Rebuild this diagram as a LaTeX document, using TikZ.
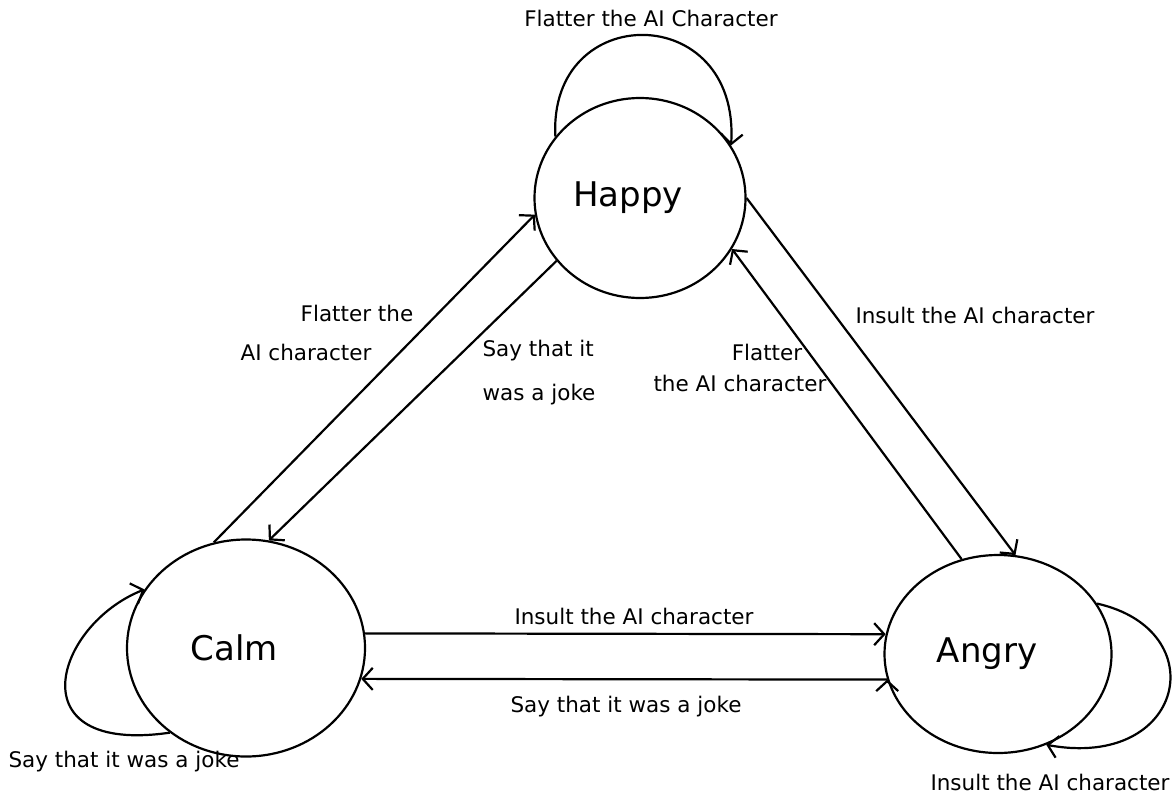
\documentclass[tikz,border=0pt]{standalone}
\usepackage{fontspec}
\setmainfont{DejaVu Sans}
\usetikzlibrary{automata, shapes.geometric, arrows.meta}
\tikzset{->, >={Straight Barb[length=10pt,width=22pt]},
  every state/.style={ellipse, draw, line width=2.2pt, inner sep=0pt, font=\fontsize{34}{40}\selectfont},
  lbl/.style={font=\fontsize{21.5}{26}\selectfont, inner sep=0pt}}

\begin{document}
\begin{tikzpicture}[x=1pt, y=-1pt, line width=2.2pt]
        \useasboundingbox (0,0) rectangle (1172,795);
        \node[state, minimum width=211pt, minimum height=200pt] at (640,198) (happy) {Happy\hspace*{24pt}};
        \node[state, minimum width=238pt, minimum height=217pt] at (246,648) (calm) {Calm\hspace*{24pt}};
        \node[state, minimum width=227pt, minimum height=198pt] at (998,654) (angry) {Angry\hspace*{22pt}};

        \node[lbl] at (651,18) (lhh) {Flatter the AI Character};
        \node[lbl] at (357,313) (lch1) {Flatter the};
        \node[lbl] at (306,352) (lch2) {AI character};
        \node[lbl, align=left] at (539,373) (lhc) {Say that it\\[18pt]was a joke};
        \node[lbl] at (975,315) (lha) {Insult the AI character};
        \node[lbl] at (767,352) (lah1) {Flatter};
        \node[lbl] at (740,383) (lah2) {the AI character};
        \node[lbl] at (634,616) (lca) {Insult the AI character};
        \node[lbl] at (626,707) (lac) {Say that it was a joke};
        \node[lbl] at (124,762) (lcc) {Say that it was a joke};
        \node[lbl] at (1050,782) (laa) {Insult the AI character};

        \draw (calm.107.8) edge (happy.189.5)
              (happy.217.5) edge (calm.78.7)
              (happy.0.5) edge (angry.80.5)
              (angry.111.2) edge (happy.331.7)
              (calm.7.6) edge (angry.170.3)
              (angry.193.2) edge (calm.345.2);
        \draw (happy.144.8) .. controls (548,0) and (740,0) .. (happy.30.2);
        \draw (calm.228.2) .. controls (15,755) and (55,625) .. (calm.150.1);
        \draw (angry.27.7) .. controls (1215,630) and (1185,770) .. (angry.298.1);
\end{tikzpicture}
\end{document}
